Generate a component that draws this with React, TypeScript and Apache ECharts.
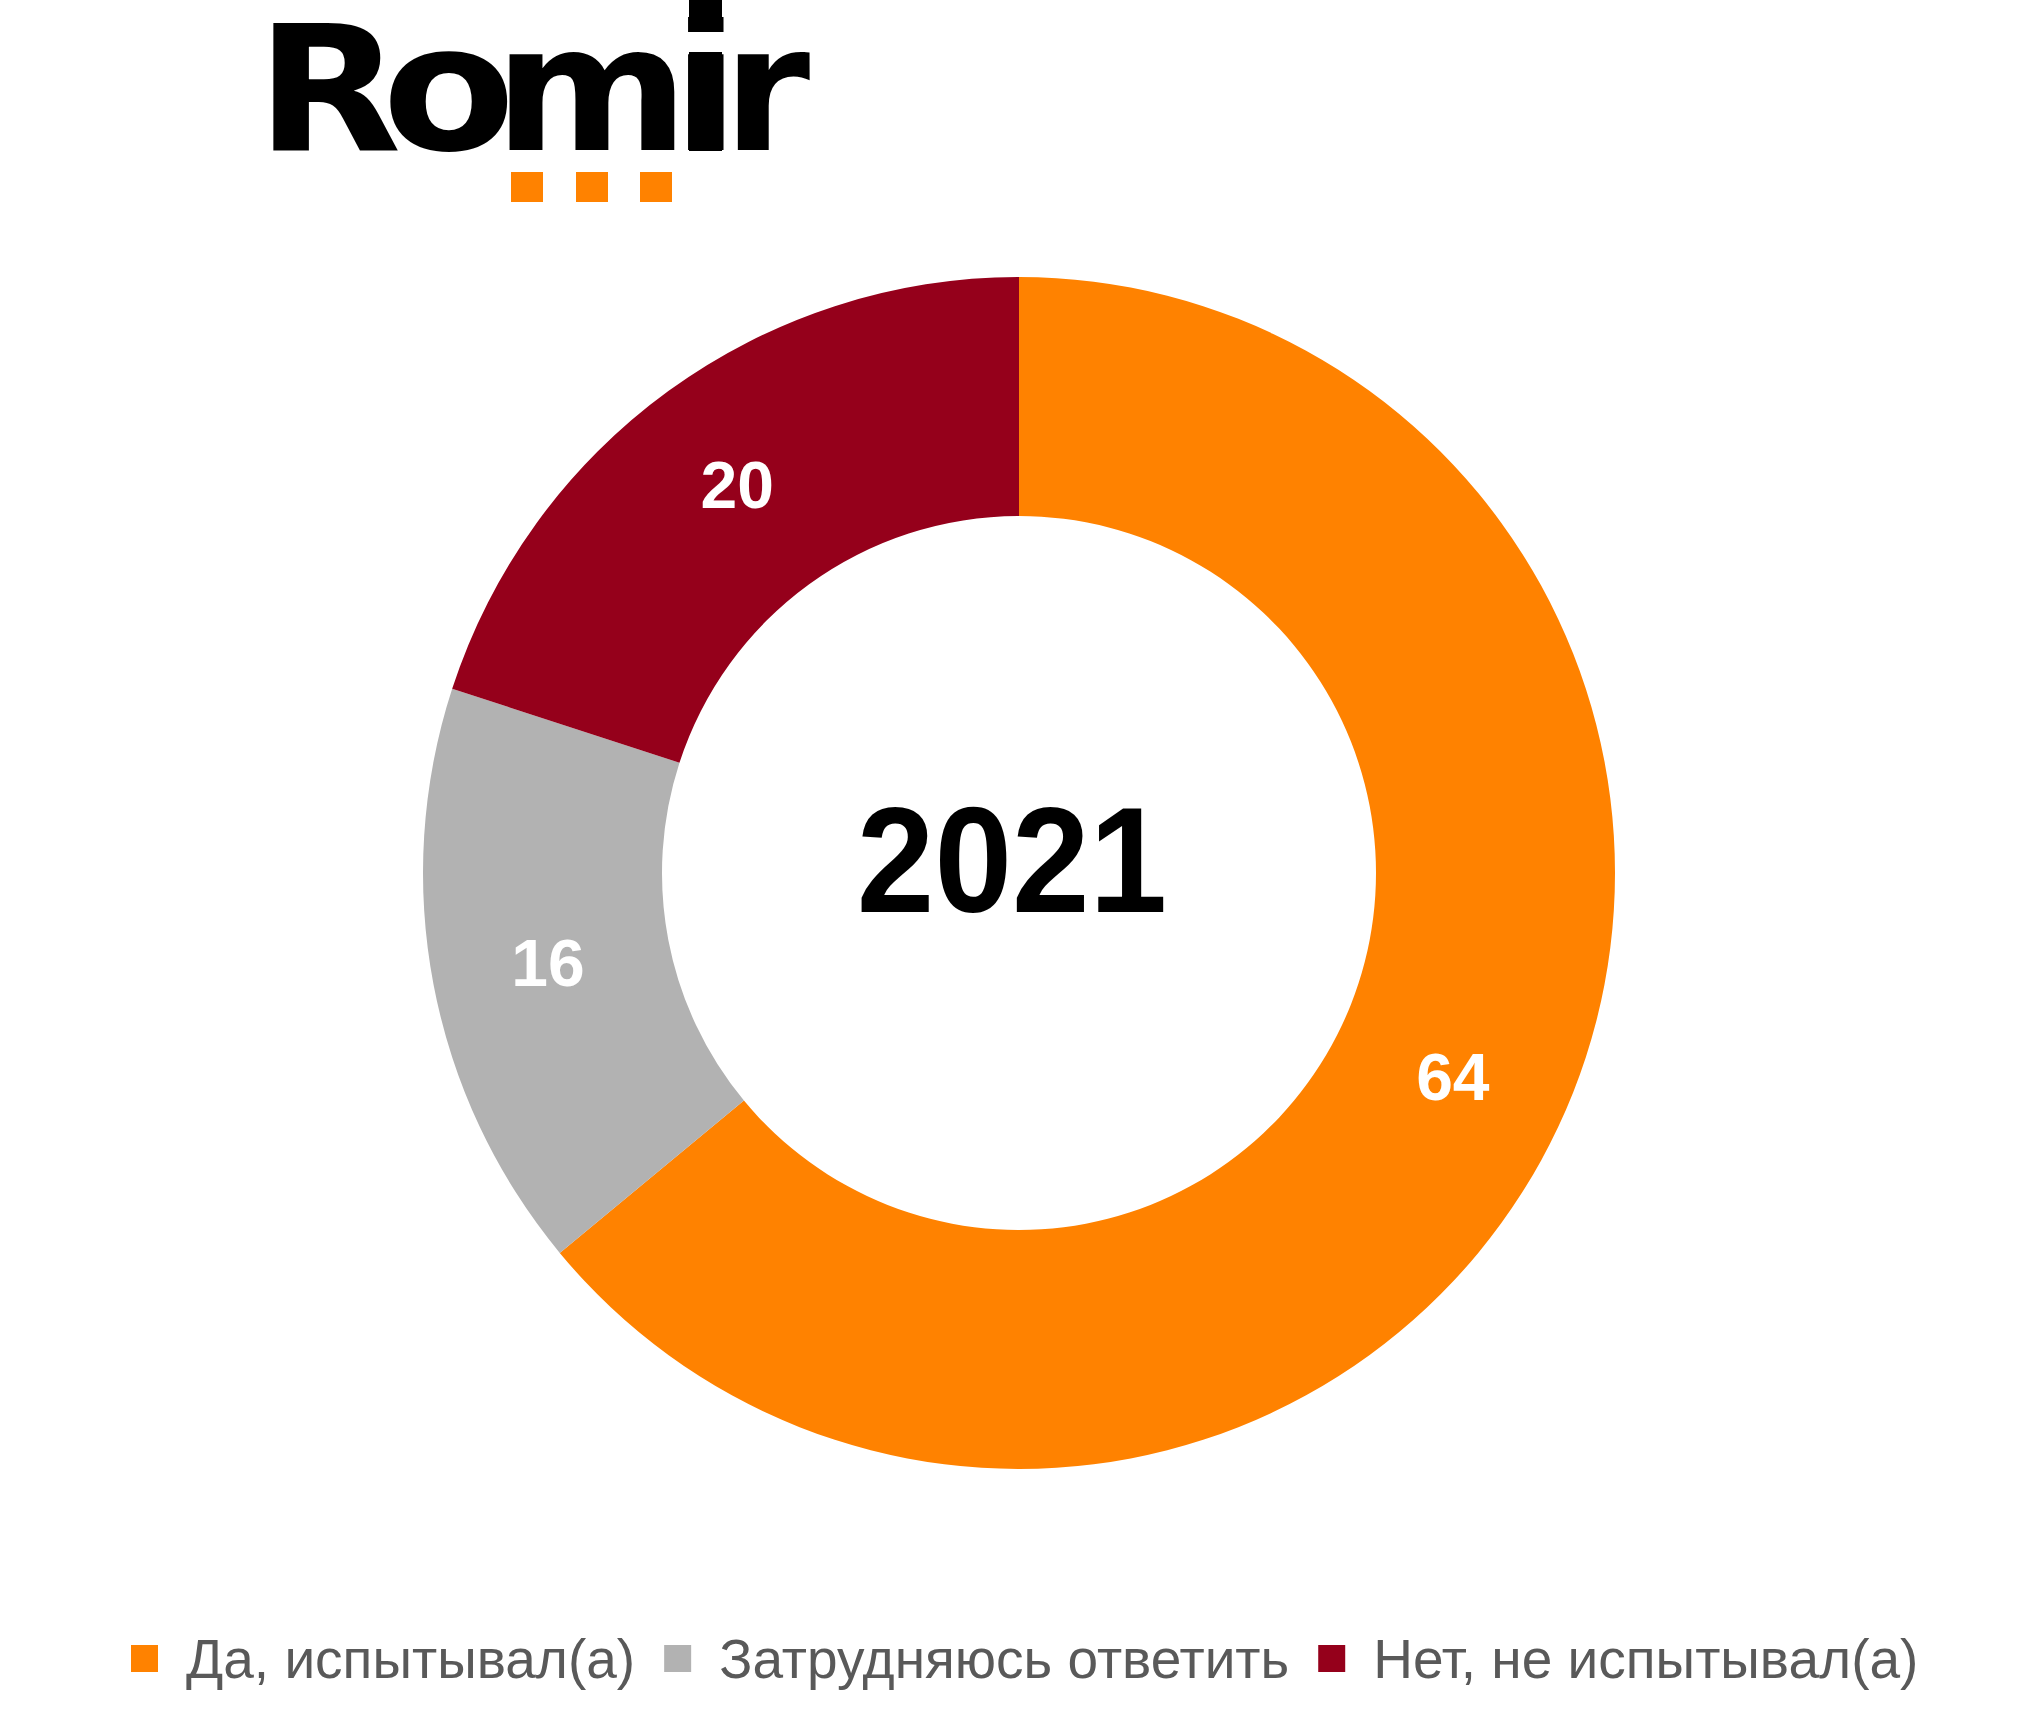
import React, { useEffect, useRef } from "react";
import * as echarts from "echarts";

const categories = ["Да, испытывал(а)", "Затрудняюсь ответить", "Нет, не испытывал(а)"];
const values = [64, 16, 20];
const colors = ["#FF8200", "#B2B2B2", "#95001B"];
const centerLabel = "2021";
const logoLetters = ["R", "o", "m", "i", "r"];

export default function App() {
  const ref = useRef<HTMLDivElement>(null);
  useEffect(() => {
    if (!ref.current) return;
    const chart = echarts.init(ref.current, null, { renderer: "svg" });
    const logoX = [256, 382, 494, 671, 723];
    const logoScale = [1.08, 1.11, 1.07, 1.16, 1.01];
    const logo = logoLetters.map((ch, i) => ({
      type: "text",
      x: logoX[i],
      y: 2,
      scaleX: logoScale[i],
      style: {
        text: ch,
        fontFamily: "DejaVu Sans",
        fontWeight: "bold",
        fontSize: 175,
        fill: "#000",
        textAlign: "left",
        verticalAlign: "top",
      },
    }));
    const squares = [511, 576, 640].map((x) => ({
      type: "rect",
      shape: { x, y: 172, width: 32, height: 30 },
      style: { fill: "#FF8200" },
    }));
    const iMask = {
      type: "rect",
      shape: { x: 685, y: 32, width: 41, height: 20 },
      style: { fill: "#fff" },
    };
    const iDot = {
      type: "rect",
      shape: { x: 689, y: 0, width: 33, height: 32 },
      style: { fill: "#000" },
    };
    const iStem = {
      type: "rect",
      shape: { x: 689, y: 52, width: 33, height: 99 },
      style: { fill: "#000" },
    };
    chart.setOption({
      animation: false,
      backgroundColor: "#fff",
      color: colors,
      legend: {
        left: 131,
        top: 1631,
        padding: 0,
        icon: "rect",
        itemWidth: 27,
        itemHeight: 27,
        itemGap: 29,
        data: categories,
        textStyle: {
          color: "#595959",
          fontFamily: "Liberation Sans, Arial, sans-serif",
          fontSize: 55,
          lineHeight: 55,
          padding: [0, 0, 0, 23],
        },
      },
      graphic: [
        ...logo,
        iMask,
        iDot,
        iStem,
        ...squares,
        {
          type: "text",
          x: 1012,
          y: 860,
          scaleX: 0.93,
          style: {
            text: centerLabel,
            fontFamily: "Liberation Sans, Arial, sans-serif",
            fontWeight: "bold",
            fontSize: 150,
            fill: "#000",
            textAlign: "center",
            verticalAlign: "middle",
          },
        },
      ],
      series: [
        {
          type: "pie",
          center: [1019, 873],
          radius: [357, 596],
          startAngle: 90,
          clockwise: true,
          avoidLabelOverlap: false,
          label: {
            show: true,
            position: "inside",
            formatter: "{c}",
            color: "#fff",
            fontFamily: "Liberation Sans, Arial, sans-serif",
            fontWeight: "bold",
            fontSize: 66,
          },
          labelLine: { show: false },
          emphasis: { disabled: true },
          data: categories.map((name, i) => ({ name, value: values[i] })),
        },
      ],
    });
    return () => chart.dispose();
  }, []);
  return (
    <div
      ref={ref}
      style={{ position: "absolute", left: 0, top: 0, width: 2038, height: 1729 }}
    />
  );
}
